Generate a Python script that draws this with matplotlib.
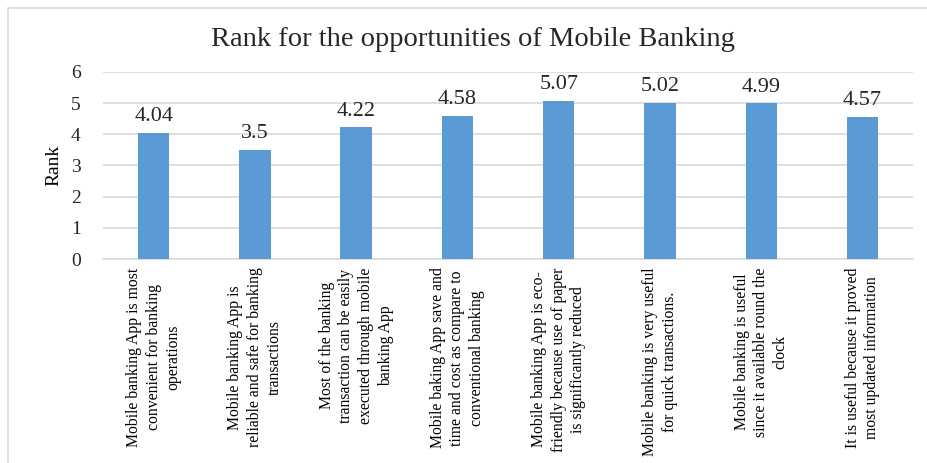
# Bar chart: rank for the opportunities of mobile banking

import matplotlib.pyplot as plt
from matplotlib.patches import Rectangle

plt.rcParams['font.family'] = ['Liberation Serif', 'DejaVu Serif']

labels = [
    "Mobile banking App is most\nconvenient for banking\noperations",
    "Mobile banking App is\nreliable and safe for banking\ntransactions",
    "Most of the banking\ntransaction can be easily\nexecuted through mobile\nbanking App",
    "Mobile baking App save and\ntime and cost as compare to\nconventional banking",
    "Mobile banking App is eco-\nfriendly because use of paper\nis significantly reduced",
    "Mobile banking is very useful\nfor quick transactions.",
    "Mobile banking is useful\nsince it available round the\nclock",
    "It is useful because it proved\nmost updated information",
]
ranks = [4.04, 3.5, 4.22, 4.58, 5.07, 5.02, 4.99, 4.57]
rank_text = ['4.04', '3.5', '4.22', '4.58', '5.07', '5.02', '4.99', '4.57']

fig = plt.figure(figsize=(9.28, 4.63), dpi=100)
ax = fig.add_axes([0.111, 0.4406, 0.873, 0.4039])

# light frame round the chart
fig.patches.append(Rectangle((8/928, -0.1), 1.2, 1.1 - 8/463, transform=fig.transFigure,
                             fill=False, edgecolor='#d9d9d9', linewidth=1.2))

x = range(len(ranks))
bars = ax.bar(x, ranks, width=0.31, color='#5b9bd5', zorder=3)
for b, t in zip(bars, rank_text):
    ax.annotate(t, (b.get_x() + b.get_width()/2, b.get_height()),
                xytext=(0, 5), textcoords='offset points',
                ha='center', va='bottom', fontsize=16, color='#262626')

ax.set_xlim(-0.5, len(ranks) - 0.5)
ax.set_ylim(0, 6)
ax.set_yticks(range(7))
ax.yaxis.grid(True, color='#d9d9d9', linewidth=1.2, zorder=0)
ax.set_axisbelow(True)
for s in ['top', 'right', 'left']:
    ax.spines[s].set_visible(False)
ax.spines['bottom'].set_color('#d9d9d9')
ax.spines['bottom'].set_linewidth(1.2)
ax.tick_params(axis='y', length=0, labelsize=14, pad=16, labelcolor='#262626')
ax.tick_params(axis='x', length=0, pad=6)
ax.set_xticks(list(x))
ax.set_xticklabels(labels, rotation=90, ha='center', va='top',
                   fontsize=11.3, linespacing=1.3, multialignment='center')
ax.set_ylabel('Rank', fontsize=14, labelpad=6)

fig.text(473/928, 1 - 39/463, 'Rank for the opportunities of Mobile Banking',
         ha='center', va='center', fontsize=20.5, color='#262626')

fig.savefig('out.png', dpi=100)
